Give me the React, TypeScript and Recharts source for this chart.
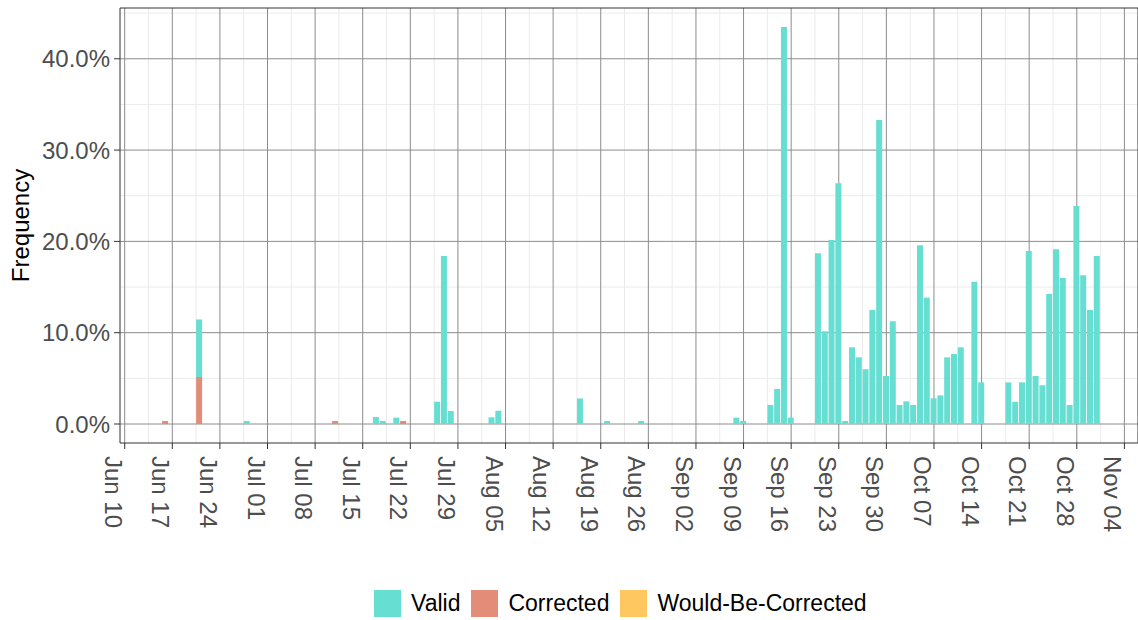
import { BarChart, Bar, XAxis, YAxis, CartesianGrid, Legend, ReferenceArea } from 'recharts';

// days that have at least one record
const barDates = [
  'Jun 16', 'Jun 21', 'Jun 28', 'Jul 11', 'Jul 17', 'Jul 18', 'Jul 20', 'Jul 21',
  'Jul 26', 'Jul 27', 'Jul 28', 'Aug 03', 'Aug 04', 'Aug 16', 'Aug 20', 'Aug 25',
  'Sep 08', 'Sep 09', 'Sep 13', 'Sep 14', 'Sep 15', 'Sep 16', 'Sep 20', 'Sep 21',
  'Sep 22', 'Sep 23', 'Sep 24', 'Sep 25', 'Sep 26', 'Sep 27', 'Sep 28', 'Sep 29',
  'Sep 30', 'Oct 01', 'Oct 02', 'Oct 03', 'Oct 04', 'Oct 05', 'Oct 06', 'Oct 07',
  'Oct 08', 'Oct 09', 'Oct 10', 'Oct 11', 'Oct 13', 'Oct 14', 'Oct 18', 'Oct 19',
  'Oct 20', 'Oct 21', 'Oct 22', 'Oct 23', 'Oct 24', 'Oct 25', 'Oct 26', 'Oct 27',
  'Oct 28', 'Oct 29', 'Oct 30', 'Oct 31',
];

// percent of records per day
const validPct = [
  0, 6.3, 0.33, 0, 0.77, 0.33, 0.7, 0,
  2.44, 18.4, 1.42, 0.73, 1.45, 2.8, 0.33, 0.33,
  0.7, 0.33, 2.08, 3.83, 43.47, 0.7, 18.7, 10.15,
  20.15, 26.36, 0.33, 8.4, 7.3, 6.0, 12.5, 33.3,
  5.26, 11.25, 2.08, 2.48, 2.08, 19.57, 13.84, 2.81,
  3.14, 7.3, 7.67, 8.4, 15.59, 4.56, 4.56, 2.44,
  4.56, 18.95, 5.26, 4.24, 14.24, 19.13, 15.99, 2.08,
  23.88, 16.28, 12.49, 18.4,
];
const correctedPct = [
  0.33, 5.15, 0, 0.33, 0, 0, 0, 0.33,
  0, 0, 0, 0, 0, 0, 0, 0,
  0, 0, 0, 0, 0, 0, 0, 0,
  0, 0, 0, 0, 0, 0, 0, 0,
  0, 0, 0, 0, 0, 0, 0, 0,
  0, 0, 0, 0, 0, 0, 0, 0,
  0, 0, 0, 0, 0, 0, 0, 0,
  0, 0, 0, 0,
];
const wouldBePct = barDates.map(() => 0);

const dateTicks = [
  'Jun 10', 'Jun 17', 'Jun 24', 'Jul 01', 'Jul 08', 'Jul 15', 'Jul 22', 'Jul 29',
  'Aug 05', 'Aug 12', 'Aug 19', 'Aug 26', 'Sep 02', 'Sep 09', 'Sep 16', 'Sep 23',
  'Sep 30', 'Oct 07', 'Oct 14', 'Oct 21', 'Oct 28', 'Nov 04',
];
const yTicks = [0, 10, 20, 30, 40];
const yMinor = [5, 15, 25, 35, 45];

const MONTHS: Record<string, number> = { Jun: 5, Jul: 6, Aug: 7, Sep: 8, Oct: 9, Nov: 10 };
const dayIndex = (label: string) => {
  const [m, d] = label.split(' ');
  return Math.round((Date.UTC(2019, MONTHS[m], Number(d)) - Date.UTC(2019, 5, 10)) / 86400000);
};

const data = barDates.map((d, i) => ({
  day: dayIndex(d),
  valid: validPct[i],
  corrected: correctedPct[i],
  wouldBe: wouldBePct[i],
}));

const majorX = dateTicks.map(dayIndex);
const minorX = majorX.slice(0, -1).map((d) => d + 3.5);
const tickName: Record<number, string> = {};
dateTicks.forEach((t) => { tickName[dayIndex(t)] = t; });

const X_DOMAIN: [number, number] = [-0.69, 149.0];
const Y_DOMAIN: [number, number] = [-2.08, 45.56];

const COLORS = { valid: '#66DED2', corrected: '#E38D79', wouldBe: '#FFC75F' };

const DateTick = ({ x, y, payload }: any) => (
  <g transform={`translate(${x},${y})`}>
    <text transform="rotate(90)" x={7} y={20} textAnchor="start" fill="#4D4D4D" fontSize={24}>
      {tickName[payload.value]}
    </text>
  </g>
);

const FreqLabel = ({ viewBox }: any) => {
  const cy = viewBox.y + viewBox.height / 2;
  return (
    <text x={29} y={cy} transform={`rotate(-90, 29, ${cy})`} textAnchor="middle" fill="#000" fontSize={24}>
      Frequency
    </text>
  );
};

const legendItems = [
  { label: 'Valid', color: COLORS.valid },
  { label: 'Corrected', color: COLORS.corrected },
  { label: 'Would-Be-Corrected', color: COLORS.wouldBe },
];

const LegendBox = () => (
  <div style={{ display: 'flex', alignItems: 'center', paddingLeft: 374, fontSize: 23, lineHeight: '27px', color: '#000' }}>
    {legendItems.map((it) => (
      <div key={it.label} style={{ display: 'flex', alignItems: 'center', marginRight: 11 }}>
        <span style={{ width: 27, height: 27, background: it.color, display: 'inline-block', marginRight: 10 }} />
        <span>{it.label}</span>
      </div>
    ))}
  </div>
);

export default function App() {
  return (
    <div style={{ position: 'absolute', left: 0, top: 0, width: 1138, height: 620, background: '#fff', fontFamily: '"Liberation Sans", Arial, sans-serif' }}>
      <BarChart width={1138} height={620} data={data} margin={{ top: 8, right: 0, bottom: 0, left: 0 }}>
        <CartesianGrid stroke="#EBEBEB" verticalValues={minorX} horizontalValues={yMinor} />
        <CartesianGrid stroke="#8C8C8C" verticalValues={majorX} horizontalValues={yTicks} />
        <XAxis
          type="number"
          dataKey="day"
          domain={X_DOMAIN}
          allowDataOverflow
          ticks={majorX}
          interval={0}
          height={177}
          axisLine={false}
          tickLine={{ stroke: '#333' }}
          tickSize={6}
          tickMargin={0}
          tick={<DateTick />}
        />
        <YAxis
          domain={Y_DOMAIN}
          allowDataOverflow
          ticks={yTicks}
          width={120}
          axisLine={false}
          tickLine={{ stroke: '#333' }}
          tickSize={6}
          tickMargin={4}
          tick={{ fill: '#4D4D4D', fontSize: 24 }}
          tickFormatter={(v: number) => `${v.toFixed(1)}%`}
          label={{ content: <FreqLabel /> }}
        />
        <ReferenceArea x1={X_DOMAIN[0]} x2={X_DOMAIN[1]} y1={Y_DOMAIN[0]} y2={Y_DOMAIN[1]} fill="none" stroke="#333" strokeWidth={1} />
        <Bar dataKey="wouldBe" name="Would-Be-Corrected" stackId="s" fill={COLORS.wouldBe} barSize={6} isAnimationActive={false} />
        <Bar dataKey="corrected" name="Corrected" stackId="s" fill={COLORS.corrected} barSize={6} isAnimationActive={false} />
        <Bar dataKey="valid" name="Valid" stackId="s" fill={COLORS.valid} barSize={6} isAnimationActive={false} />
        <Legend
          layout="horizontal"
          verticalAlign="middle"
          align="center"
          wrapperStyle={{ top: 590, left: 0, width: 1138 }}
          content={<LegendBox />}
        />
      </BarChart>
    </div>
  );
}
